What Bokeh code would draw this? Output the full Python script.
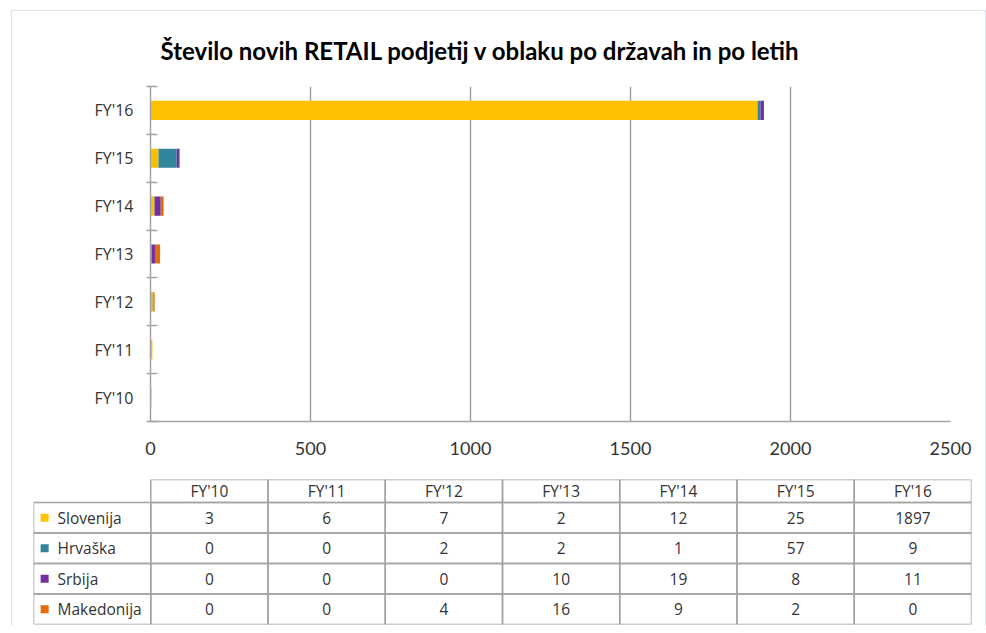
from bokeh.plotting import figure
from bokeh.models import ColumnDataSource, Range1d, FixedTicker
from bokeh.layouts import column, row
from bokeh.core.properties import value
from bokeh.embed import file_html
from bokeh.resources import INLINE

# ---------------- data ----------------
years = ["FY'10", "FY'11", "FY'12", "FY'13", "FY'14", "FY'15", "FY'16"]
countries = ["Slovenija", "Hrvaška", "Srbija", "Makedonija"]
slovenija = [3, 6, 7, 2, 12, 25, 1897]
hrvaska = [0, 0, 2, 2, 1, 57, 9]
srbija = [0, 0, 0, 10, 19, 8, 11]
makedonija = [0, 0, 4, 16, 9, 2, 0]
x_ticks = [0, 500, 1000, 1500, 2000, 2500]
title_text = "Število novih RETAIL podjetij v oblaku po državah in po letih"

colors = ["#FFC000", "#31869B", "#7030A0", "#E46C0A"]
series = [slovenija, hrvaska, srbija, makedonija]
GRAY = "#a3a3a3"
TXT = "#333333"
W = 973

# ---------------- chart ----------------
n = len(years)
pos = [i + 0.5 for i in range(n)]
src = ColumnDataSource(dict(y=pos, **{c: s for c, s in zip(countries, series)}))

p = figure(width=W, height=459, x_range=Range1d(x_ticks[0], x_ticks[-1]),
           y_range=Range1d(0, n), output_backend="svg", toolbar_location=None,
           min_border_left=138, min_border_right=W - 138 - 800, min_border_top=74,
           min_border_bottom=49, title=title_text)
p.title.text_font = "Lato"
p.title.text_font_size = "24px"
p.title.text_font_style = "bold"
p.title.text_color = "#000000"
p.title.align = "left"
p.title.offset = 10
p.title.standoff = 44

p.hbar_stack(countries, y="y", height=0.4, fill_color=colors, line_color=None, source=src)

p.outline_line_color = None
p.ygrid.grid_line_color = None
p.xgrid.ticker = FixedTicker(ticks=x_ticks)
p.xgrid.grid_line_color = GRAY
p.xgrid.grid_line_width = 1.5

p.xaxis.ticker = FixedTicker(ticks=x_ticks)
p.xaxis.axis_line_color = GRAY
p.xaxis.axis_line_width = 1.5
p.xaxis.major_tick_line_color = None
p.xaxis.minor_tick_line_color = None
p.xaxis.major_tick_out = 0
p.xaxis.major_tick_in = 0
p.xaxis.major_label_standoff = 20
p.xaxis.major_label_text_font = "Lato"
p.xaxis.major_label_text_font_size = "18px"
p.xaxis.major_label_text_color = TXT

p.yaxis.ticker = FixedTicker(ticks=pos, minor_ticks=list(range(n + 1)))
p.yaxis.major_label_overrides = {pp: yr for pp, yr in zip(pos, years)}
p.yaxis.axis_line_color = GRAY
p.yaxis.axis_line_width = 1.5
p.yaxis.major_tick_line_color = None
p.yaxis.major_tick_out = 0
p.yaxis.major_tick_in = 0
p.yaxis.minor_tick_line_color = GRAY
p.yaxis.minor_tick_line_width = 1.5
p.yaxis.minor_tick_in = 7
p.yaxis.minor_tick_out = 4
p.yaxis.major_label_standoff = 13
p.yaxis.major_label_text_font = "Open Sans"
p.yaxis.major_label_text_font_size = "16px"
p.yaxis.major_label_text_color = TXT

# ---------------- data table ----------------
header_h = 23.0
row_h = 30.5
total_h = header_h + row_h * len(countries)
ncol = n + 1
FS = "15.5px"

t = figure(width=W, height=156, x_range=Range1d(0, ncol), y_range=Range1d(0, total_h),
           output_backend="svg", toolbar_location=None,
           x_axis_location=None, y_axis_location=None,
           min_border_left=21, min_border_right=W - 21 - 938, min_border_top=9, min_border_bottom=2)
t.grid.visible = False
t.outline_line_color = None

hx = [i + 1.5 for i in range(n)]
hy = [total_h - header_h / 2] * n
t.rect(x=hx, y=hy, width=1, height=header_h, fill_color=None, line_color=GRAY, line_width=1.5)
t.text(x=hx, y=hy, text=years, text_align="center", text_baseline="middle",
       text_font=value("Open Sans"), text_font_size=FS, text_color=TXT)

cx, cy, ct = [], [], []
for r, s in enumerate(series):
    yc = total_h - header_h - row_h * (r + 0.5)
    for c in range(ncol):
        cx.append(c + 0.5)
        cy.append(yc)
    for c, v in enumerate(s):
        ct.append((c + 1.5, yc, str(v)))
t.rect(x=cx, y=cy, width=1, height=row_h, fill_color=None, line_color=GRAY, line_width=1.5)
t.text(x=[a for a, _, _ in ct], y=[b for _, b, _ in ct], text=[s for _, _, s in ct],
       text_align="center", text_baseline="middle",
       text_font=value("Open Sans"), text_font_size=FS, text_color=TXT)

ry = [total_h - header_h - row_h * (r + 0.5) for r in range(len(countries))]
t.scatter(x=[0.095] * len(countries), y=ry, marker="square", size=8, fill_color=colors, line_color=None)
t.text(x=[0.205] * len(countries), y=ry, text=countries, text_align="left", text_baseline="middle",
       text_font=value("Open Sans"), text_font_size=FS, text_color=TXT)

layout = column(row(p), row(t), styles={"border-top": "1px solid #dfe5ec", "border-left": "1px solid #dfe5ec",
                                        "border-right": "1px solid #dfe5ec", "margin-left": "11px",
                                        "margin-top": "10px"})

open("out.html", "w").write(file_html(layout, INLINE))
